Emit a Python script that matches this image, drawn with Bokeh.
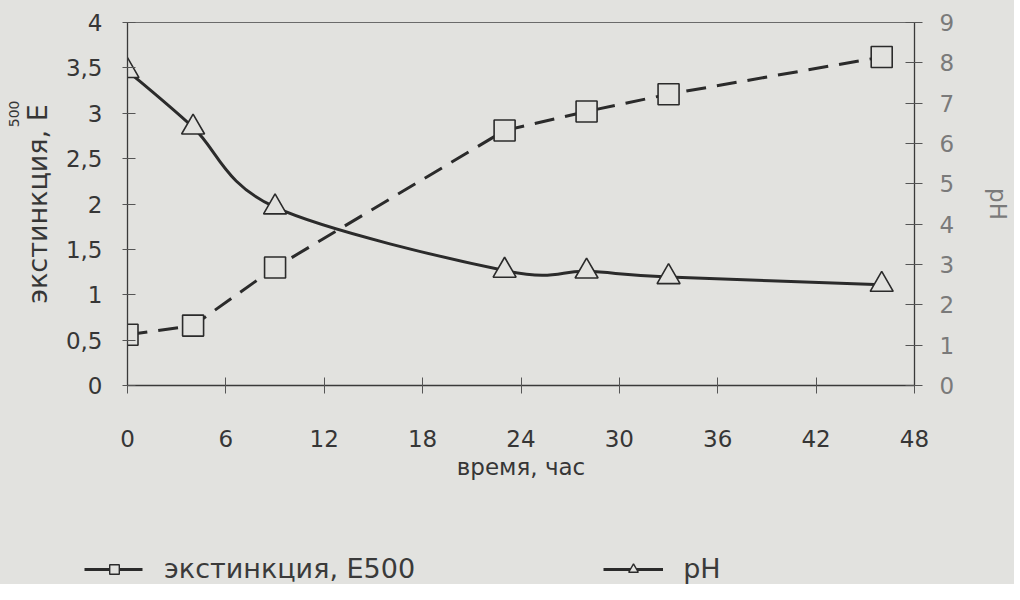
import math
from bokeh.plotting import figure
from bokeh.layouts import column
from bokeh.models import (Range1d, LinearAxis, FixedTicker, Legend, LegendItem,
                          Title, ColumnDataSource)
from bokeh.embed import file_html
from bokeh.resources import INLINE

# ---- data ----
time_h = [0, 4, 9, 23, 28, 33, 46]
extinction = [0.56, 0.66, 1.30, 2.81, 3.02, 3.21, 3.62]
ph = [7.8, 6.4, 4.42, 2.85, 2.83, 2.69, 2.5]

x_ticks = [0, 6, 12, 18, 24, 30, 36, 42, 48]
ext_ticks = [0, 0.5, 1, 1.5, 2, 2.5, 3, 3.5, 4]
ext_tick_labels = ["0", "0,5", "1", "1,5", "2", "2,5", "3", "3,5", "4"]
ph_ticks = [0, 1, 2, 3, 4, 5, 6, 7, 8, 9]

x_label = "время, час"
y_label = "экстинкция, Е"
y_label_sup = "500"
y2_label = "pH"
legend_ext = "экстинкция, Е500"
legend_ph = "pH"

BG = "#e2e2df"
INK = "#2b2b2b"
FONT = "DejaVu Sans"

p = figure(frame_width=787, frame_height=363,
           min_border_left=127, min_border_right=90,
           min_border_top=22, min_border_bottom=103,
           x_range=Range1d(0, 48), y_range=Range1d(0, 4),
           output_backend="svg", toolbar_location=None,
           background_fill_color=BG, border_fill_color=BG)
p.frame_align = False
p.xgrid.visible = False
p.ygrid.visible = False
p.outline_line_color = "#6a6a6a"
p.outline_line_width = 1
p.extra_y_ranges = {"ph": Range1d(0, 9)}

# ---- extinction: dashed line + squares ----
ext_src = ColumnDataSource(dict(x=time_h, y=extinction))
p.line("x", "y", source=ext_src, line_color=INK, line_width=3, line_dash="20 11")

# ---- pH: smooth curve (Catmull-Rom as cubic Bezier) + triangles ----
px = [time_h[0]] + time_h + [time_h[-1]]
py = [ph[0]] + ph + [ph[-1]]
seg = dict(x0=[], y0=[], x1=[], y1=[], cx0=[], cy0=[], cx1=[], cy1=[])
for i in range(len(time_h) - 1):
    x0_, y0_ = px[i], py[i]
    x1_, y1_ = px[i + 1], py[i + 1]
    x2_, y2_ = px[i + 2], py[i + 2]
    x3_, y3_ = px[i + 3], py[i + 3]
    seg["x0"].append(x1_); seg["y0"].append(y1_)
    seg["x1"].append(x2_); seg["y1"].append(y2_)
    seg["cx0"].append(x1_ + (x2_ - x0_) / 6.0)
    seg["cy0"].append(y1_ + (y2_ - y0_) / 6.0)
    seg["cx1"].append(x2_ - (x3_ - x1_) / 6.0)
    seg["cy1"].append(y2_ - (y3_ - y1_) / 6.0)
p.bezier(source=ColumnDataSource(seg), x0="x0", y0="y0", x1="x1", y1="y1",
         cx0="cx0", cy0="cy0", cx1="cx1", cy1="cy1",
         y_range_name="ph", line_color=INK, line_width=3)

ph_src = ColumnDataSource(dict(x=time_h, y=ph))
p.scatter("x", "y", source=ph_src, marker="triangle", size=23,
          y_range_name="ph", fill_color=BG, line_color=INK, line_width=1.6)
p.scatter("x", "y", source=ext_src, marker="square", size=21,
          fill_color=BG, line_color=INK, line_width=1.6)

# ---- axes ----
xa = p.xaxis[0]
xa.ticker = FixedTicker(ticks=x_ticks)
xa.major_tick_in = 8
xa.major_tick_out = 8
xa.major_label_standoff = 36
xa.axis_label = x_label
xa.axis_label_standoff = 4
xa.axis_label_text_font_size = "23px"
xa.axis_label_text_font_style = "normal"

ya = p.yaxis[0]
ya.ticker = FixedTicker(ticks=ext_ticks)
ya.major_label_overrides = {t: s for t, s in zip(ext_ticks, ext_tick_labels)}
ya.major_tick_in = 8
ya.major_tick_out = 5
ya.major_label_standoff = 20
ya.axis_label = y_label
ya.axis_label_standoff = 10
ya.axis_label_text_font_size = "27px"
ya.axis_label_text_font_style = "normal"
ya.axis_label_text_line_height = 0.8

ra = LinearAxis(y_range_name="ph", ticker=FixedTicker(ticks=ph_ticks))
ra.major_tick_in = 9
ra.major_tick_out = 8
ra.major_label_standoff = 17
ra.axis_label = y2_label
ra.axis_label_standoff = 28
ra.axis_label_text_font_size = "23px"
ra.axis_label_text_font_style = "normal"
ra.axis_label_text_line_height = 0.8
p.add_layout(ra, "right")

for ax, col in ((xa, "#363636"), (ya, "#363636"), (ra, "#7a7a7a")):
    ax.axis_line_color = "#3a3a3a"
    ax.axis_line_width = 1.3
    ax.major_tick_line_color = "#555555"
    ax.major_tick_line_width = 1
    ax.minor_tick_line_color = None
    ax.major_label_text_font = FONT
    ax.major_label_text_font_size = "23px"
    ax.major_label_text_color = col
    ax.axis_label_text_font = FONT
    ax.axis_label_text_color = col

# superscript "500" of the y label (a rotated title on the left side)
p.add_layout(Title(text=y_label_sup, align="right", offset=78, standoff=0,
                   text_font=FONT, text_font_size="14px", text_font_style="normal",
                   text_color="#363636", text_line_height=0.8), "left")

# ---- legend strip under the chart ----
lf = figure(width=1004, height=96, x_range=Range1d(1000, 1001), y_range=Range1d(1000, 1001),
            min_border=0, x_axis_location=None, y_axis_location=None,
            output_backend="svg", toolbar_location=None,
            background_fill_color=BG, border_fill_color=BG, outline_line_color=None)
lf.frame_align = False
lf.xgrid.visible = False
lf.ygrid.visible = False
l_ext_line = lf.line(time_h, extinction, line_color=INK, line_width=3, line_dash="25 8")
l_ext_pts = lf.scatter(time_h, extinction, marker="square", size=17,
                       fill_color=BG, line_color=INK, line_width=1.4)
l_ph_line = lf.line(time_h, ph, line_color=INK, line_width=3)
l_ph_pts = lf.scatter(time_h, ph, marker="triangle", size=18,
                      fill_color=BG, line_color=INK, line_width=1.4)
legend = Legend(items=[LegendItem(label=legend_ext, renderers=[l_ext_line, l_ext_pts]),
                       LegendItem(label=legend_ph, renderers=[l_ph_line, l_ph_pts])],
                location=(84, 0), orientation="horizontal",
                glyph_width=60, glyph_height=24, label_standoff=20, spacing=188,
                padding=0, margin=0, background_fill_alpha=0, border_line_alpha=0,
                label_text_font=FONT, label_text_font_size="27px",
                label_text_line_height=1.0, label_text_color="#3a3a3a")
lf.add_layout(legend, "center")

layout = column(p, lf, spacing=0, styles={"background-color": BG})
open("out.html", "w").write(file_html(layout, INLINE))
